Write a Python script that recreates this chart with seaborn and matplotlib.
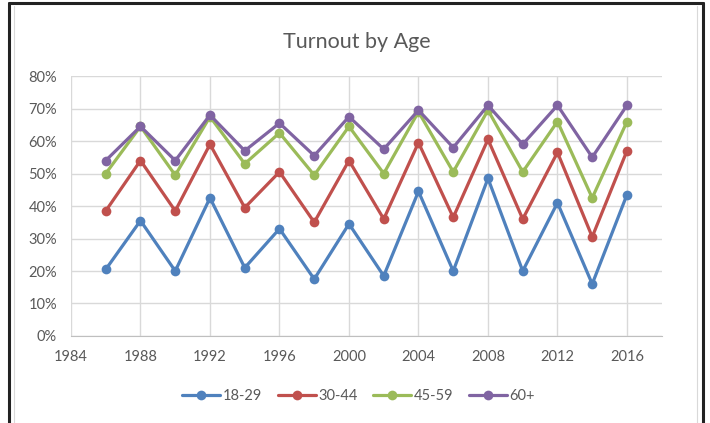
import matplotlib
matplotlib.use("Agg")
from matplotlib import pyplot as plt
from matplotlib.ticker import PercentFormatter
from matplotlib.lines import Line2D
import seaborn as sns
import pandas as pd

years = [1986, 1988, 1990, 1992, 1994, 1996, 1998, 2000,
         2002, 2004, 2006, 2008, 2010, 2012, 2014, 2016]
age_groups = ["18-29", "30-44", "45-59", "60+"]
t_18_29 = [20.5, 35.5, 20, 42.5, 21, 33, 17.5, 34.5, 18.5, 44.5, 20, 48.5, 20, 41, 16, 43.5]
t_30_44 = [38.5, 54, 38.5, 59, 39.5, 50.5, 35, 54, 36, 59.5, 36.5, 60.5, 36, 56.5, 30.5, 57]
t_45_59 = [50, 64.5, 49.5, 67.5, 53, 62.5, 49.5, 64.5, 50, 69, 50.5, 69.5, 50.5, 66, 42.5, 66]
t_60_up = [54, 64.5, 54, 68, 57, 65.5, 55.5, 67.5, 57.5, 69.5, 58, 71, 59, 71, 55, 71]
x_ticks = [1984, 1988, 1992, 1996, 2000, 2004, 2008, 2012, 2016]
colors = ["#4F81BD", "#C0504D", "#9BBB59", "#8064A2"]

rows = []
for grp, vals in zip(age_groups, [t_18_29, t_30_44, t_45_59, t_60_up]):
    for yr, v in zip(years, vals):
        rows.append({"year": yr, "turnout": v, "age": grp})
df = pd.DataFrame(rows)

sns.set_style("white")
plt.rcParams["font.family"] = ["Lato", "DejaVu Sans"]

fig = plt.figure(figsize=(7.1, 4.23), dpi=100)
ax = fig.add_axes([0.1, 0.2057, 0.832, 0.6145])

sns.lineplot(data=df, x="year", y="turnout", hue="age", palette=colors,
             marker="o", markersize=7, markeredgewidth=0, linewidth=2.3,
             legend=False, ax=ax)

ax.set_xlim(1984, 2018)
ax.set_ylim(0, 80)
ax.set_xticks(x_ticks)
ax.set_yticks(range(0, 81, 10))
ax.yaxis.set_major_formatter(PercentFormatter(100, decimals=0))
ax.grid(True, color="#D9D9D9", linewidth=1)
ax.set_axisbelow(True)
for s in ["top", "right", "left"]:
    ax.spines[s].set_visible(False)
ax.spines["bottom"].set_color("#BFBFBF")
ax.tick_params(axis="both", length=0, labelsize=10.5, labelcolor="#595959")
ax.tick_params(axis="x", pad=10)
ax.tick_params(axis="y", pad=10)
ax.set_xlabel("")
ax.set_ylabel("")

fig.text(0.503, 0.9, "Turnout by Age", ha="center", va="center",
         fontsize=15.5, color="#595959")

handles = [Line2D([], [], color=c, marker="o", markersize=7, linewidth=2.3,
                  markeredgewidth=0) for c in colors]
fig.legend(handles, age_groups, loc="center", bbox_to_anchor=(0.505, 0.063),
           ncol=4, frameon=False, fontsize=10.5, labelcolor="#595959",
           handlelength=2.6, handletextpad=0.15, columnspacing=1.1)

# outer frame
fig.add_artist(Line2D([0.013, 0.013], [0, 0.993], color="#222222", linewidth=2.2,
                      transform=fig.transFigure))
fig.add_artist(Line2D([0.013, 0.990], [0.993, 0.993], color="#222222", linewidth=2.2,
                      transform=fig.transFigure))
fig.add_artist(Line2D([0.990, 0.990], [0, 0.993], color="#222222", linewidth=2.2,
                      transform=fig.transFigure))
fig.add_artist(Line2D([0.020, 0.020], [0, 0.985], color="#D9D9D9", linewidth=0.8,
                      transform=fig.transFigure))
fig.add_artist(Line2D([0.982, 0.982], [0, 0.985], color="#D9D9D9", linewidth=0.8,
                      transform=fig.transFigure))

fig.savefig("out.png", dpi=100)
